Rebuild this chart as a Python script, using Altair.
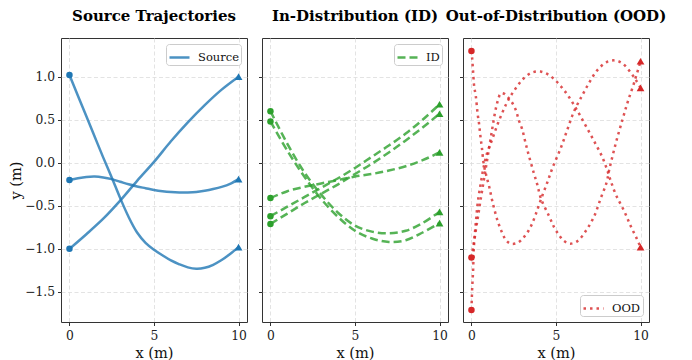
import altair as alt
import pandas as pd

SERIF = "DejaVu Serif"

# ---------------- data ----------------
# Source Trajectories
SRC_X_FINE = [0, 0.5, 1, 1.5, 2, 2.5, 3, 3.5, 4, 4.5, 5, 5.5, 6, 6.5, 7, 7.5, 8, 8.5, 9, 9.5, 10]
SRC_Y1 = [1.02, 0.78, 0.54, 0.30, 0.06, -0.17, -0.41, -0.63, -0.81, -0.93, -1.01, -1.075, -1.135, -1.18,
          -1.215, -1.23, -1.22, -1.185, -1.13, -1.06, -0.98]
SRC_Y2 = [-0.20, -0.18, -0.165, -0.16, -0.17, -0.19, -0.22, -0.25, -0.275, -0.295, -0.315, -0.33, -0.34,
          -0.345, -0.345, -0.34, -0.325, -0.305, -0.28, -0.245, -0.19]
SRC_X_COARSE = [0, 1, 2, 3, 4, 5, 6, 7, 8, 9, 10]
SRC_Y3 = [-1.0, -0.83, -0.65, -0.44, -0.21, 0.01, 0.25, 0.47, 0.67, 0.85, 1.0]

# In-Distribution (ID)
ID_X = [0, 1, 2, 3, 4, 5, 6, 7, 8, 9, 10]
ID_Y1 = [0.60, 0.22, -0.11, -0.37, -0.58, -0.73, -0.80, -0.82, -0.79, -0.70, -0.57]
ID_Y2 = [0.48, 0.14, -0.16, -0.42, -0.63, -0.79, -0.88, -0.92, -0.90, -0.81, -0.70]
ID_Y3 = [-0.41, -0.33, -0.28, -0.24, -0.20, -0.16, -0.13, -0.09, -0.04, 0.03, 0.12]
ID_Y4 = [-0.62, -0.51, -0.40, -0.29, -0.18, -0.06, 0.07, 0.20, 0.34, 0.50, 0.68]
ID_Y5 = [-0.71, -0.59, -0.47, -0.36, -0.25, -0.13, -0.01, 0.12, 0.26, 0.41, 0.57]

# Out-of-Distribution (OOD)
OOD_X1 = [0, 0.04, 0.10, 0.16, 0.26, 0.37, 0.44, 0.53, 0.62, 0.73, 0.88, 1.04, 1.24, 1.54, 1.83, 2.05,
          2.33, 2.72, 3.12, 3.51, 3.80, 4.10, 4.50, 4.79, 5.28, 5.68, 6.07, 6.57, 6.96, 7.46, 8.0, 8.45,
          8.80, 9.13, 9.45, 9.70, 10]
OOD_Y1 = [1.30, 1.22, 1.05, 0.89, 0.77, 0.56, 0.47, 0.31, 0.17, -0.02, -0.15, -0.27, -0.45, -0.67, -0.82,
          -0.90, -0.94, -0.93, -0.86, -0.74, -0.60, -0.43, -0.22, -0.06, 0.17, 0.39, 0.60, 0.79, 0.93,
          1.08, 1.17, 1.19, 1.17, 1.12, 1.04, 0.97, 0.87]
OOD_X2 = [0, 0.1, 0.2, 0.3, 0.4, 0.5, 0.6, 0.7, 0.8, 0.9, 1.0, 1.1, 1.2, 1.3, 1.4, 1.5, 1.6, 1.7, 1.8,
          1.95, 2.12, 2.37, 2.61, 2.81, 3.0, 3.2, 3.4, 3.69, 3.89, 4.1, 4.59, 4.89, 5.18, 5.48, 5.81,
          6.27, 6.77, 7.26, 7.65, 7.99, 8.15, 8.54, 8.93, 9.23, 9.62, 10]
OOD_Y2 = [-1.10, -0.98, -0.86, -0.73, -0.61, -0.48, -0.36, -0.24, -0.12, 0.0, 0.12, 0.24, 0.36, 0.48,
          0.59, 0.68, 0.75, 0.80, 0.81, 0.80, 0.77, 0.71, 0.62, 0.49, 0.39, 0.23, 0.08, -0.12, -0.25,
          -0.41, -0.62, -0.75, -0.84, -0.91, -0.94, -0.91, -0.79, -0.62, -0.41, -0.23, -0.08, 0.23, 0.50,
          0.70, 0.93, 1.18]
OOD_X3 = [0, 0.02, 0.04, 0.07, 0.10, 0.12, 0.14, 0.17, 0.22, 0.28, 0.35, 0.44, 0.55, 0.67, 0.80, 0.95,
          1.13, 1.33, 1.55, 1.80, 2.05, 2.30, 2.60, 2.90, 3.20, 3.60, 4.08, 4.50, 4.85, 5.15, 5.45, 5.75,
          6.10, 6.45, 6.90, 7.34, 7.73, 8.02, 8.22, 8.54, 9.03, 9.43, 9.80, 10]
OOD_Y3 = [-1.71, -1.59, -1.47, -1.36, -1.24, -1.10, -1.00, -0.90, -0.78, -0.65, -0.50, -0.37, -0.24,
          -0.10, 0.02, 0.13, 0.22, 0.33, 0.45, 0.57, 0.68, 0.77, 0.86, 0.94, 1.00, 1.05, 1.06, 1.03, 0.98,
          0.92, 0.85, 0.77, 0.66, 0.54, 0.38, 0.22, 0.07, -0.08, -0.20, -0.37, -0.56, -0.74, -0.89, -0.98]

PANELS = [
    ("Source Trajectories", "Source", "#1f77b4", None,
     [(SRC_X_FINE, SRC_Y1), (SRC_X_FINE, SRC_Y2), (SRC_X_COARSE, SRC_Y3)], "top-right"),
    ("In-Distribution (ID)", "ID", "#2ca02c", [8, 4],
     [(ID_X, ID_Y1), (ID_X, ID_Y2), (ID_X, ID_Y3), (ID_X, ID_Y4), (ID_X, ID_Y5)], "top-right"),
    ("Out-of-Distribution (OOD)", "OOD", "#d62728", [2.5, 4],
     [(OOD_X1, OOD_Y1), (OOD_X2, OOD_Y2), (OOD_X3, OOD_Y3)], "bottom-right"),
]

Y_TICKS = [-1.5, -1.0, -0.5, 0.0, 0.5, 1.0]
X_TICKS = [0, 5, 10]


def make_frames(label, curves):
    rows = []
    for ci, (xs, ys) in enumerate(curves):
        for i, (x, y) in enumerate(zip(xs, ys)):
            rows.append({"curve": f"{label}{ci}", "i": i, "x": x, "y": y, "label": label})
    df = pd.DataFrame(rows)
    starts = df.groupby("curve").head(1)
    ends = df.groupby("curve").tail(1)
    return df, starts, ends


def make_panel(k, title, label, color, dash, curves, legend_orient):
    df, starts, ends = make_frames(label, curves)
    first = k == 0
    xs = alt.Scale(domain=[-0.5, 10.5], nice=False, zero=False)
    ys = alt.Scale(domain=[-1.85, 1.45], nice=False, zero=False)
    xenc = alt.X("x:Q", scale=xs, axis=alt.Axis(values=X_TICKS, format="d", title="x (m)"))
    if first:
        yaxis = alt.Axis(values=Y_TICKS, format=".1f", title="y (m)", titlePadding=1, labelPadding=3)
    else:
        yaxis = alt.Axis(values=Y_TICKS, labels=False, title=None)
    yenc = alt.Y("y:Q", scale=ys, axis=yaxis)

    leg_kwargs = dict(
        orient=legend_orient, offset=6, title=None, padding=2,
        strokeColor="#cccccc", fillColor="#ffffff", cornerRadius=3,
        labelFont=SERIF, labelFontSize=11.5, labelColor="#111111", labelOffset=7,
        symbolType="stroke", symbolStrokeWidth=2.5, symbolOpacity=0.8, symbolSize=400,
    )
    if dash:
        leg_kwargs["symbolDash"] = dash
    line_kwargs = dict(strokeWidth=2.5, opacity=0.8, interpolate="catmull-rom")
    if dash:
        line_kwargs["strokeDash"] = dash

    lines = alt.Chart(df).mark_line(**line_kwargs).encode(
        x=xenc, y=yenc, detail="curve:N", order="i:Q",
        color=alt.Color("label:N", scale=alt.Scale(domain=[label], range=[color]),
                        legend=alt.Legend(**leg_kwargs)),
    )
    pts_s = alt.Chart(starts).mark_point(shape="circle", filled=True, size=42, opacity=1,
                                         color=color).encode(x=xenc, y=yenc)
    pts_e = alt.Chart(ends).mark_point(shape="triangle-up", filled=True, size=60, opacity=1,
                                       color=color).encode(x=xenc, y=yenc)
    return alt.layer(lines, pts_s, pts_e).properties(width=186, height=284, title=title)


panels = [make_panel(k, *p) for k, p in enumerate(PANELS)]

chart = (
    alt.hconcat(*panels, spacing=15, bounds="flush")
    .resolve_scale(color="independent")
    .resolve_legend(color="independent")
    .properties(padding={"left": 0, "top": 0, "right": 4, "bottom": 0})
    .configure_view(stroke="#333333", strokeWidth=1)
    .configure_axis(
        labelFont=SERIF, titleFont=SERIF, labelFontSize=12.3, titleFontSize=14.6,
        titleFontWeight="normal", labelColor="#222222", titleColor="#111111",
        tickColor="#333333", tickSize=3.5, tickWidth=1, domain=False,
        grid=True, gridColor="#dcdcdc", gridDash=[4, 2.5], gridWidth=0.8,
        labelPadding=4, titlePadding=4,
    )
    .configure_title(font=SERIF, fontSize=15, fontWeight="bold", anchor="middle",
                     offset=14, baseline="alphabetic", color="#000000")
)

chart.save("out.html", embed_options={"renderer": "svg", "actions": False})
